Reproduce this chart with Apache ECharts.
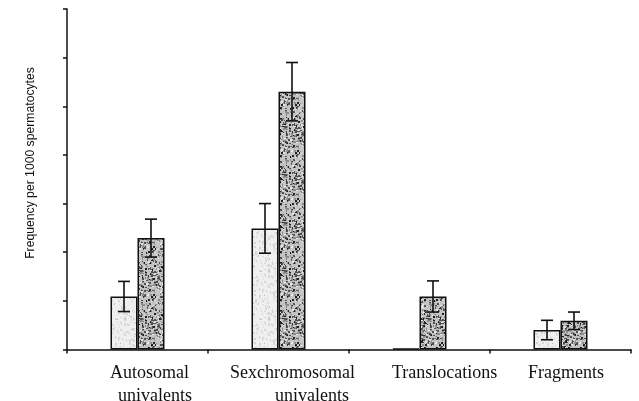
<!DOCTYPE html>
<html>
<head>
<meta charset="utf-8">
<script src="https://cdn.jsdelivr.net/npm/echarts@6/dist/echarts.min.js"></script>
<style>
  html, body { margin: 0; padding: 0; background: #fff; }
  #chart { width: 639px; height: 401px; }
</style>
</head>
<body>
<div id="chart"></div>
<script>
// Category labels, each split into its two printed lines
const categories = ['Autosomal univalents', 'Sexchromosomal univalents', 'Translocations', 'Fragments'];
const labelLines = [['Autosomal', 'univalents'], ['Sexchromosomal', 'univalents'], ['Translocations'], ['Fragments']];

// Frequency per 1000 spermatocytes: two groups per category
const lightValues = [1.09, 2.49, 0.02, 0.40];
const darkValues = [2.29, 5.30, 1.09, 0.59];
// Half-length of the error bars (null = no bar drawn)
const lightErrors = [0.31, 0.51, null, 0.20];
const darkErrors = [0.39, 0.60, 0.32, 0.18];

// Y axis ticks (unlabelled)
const yTicks = [0, 1, 2, 3, 4, 5, 6, 7];

// Left edge of each label line relative to the category centre (px)
const lineOffsets = [[-27.5, -19.5], [-48.5, -3.5], [-27.5], [-32.5]];

const BAR_W = 27;

// Deterministic speckle texture for the bar fills
function hash(n) {
  let x = Math.sin(n * 12.9898 + 78.233) * 43758.5453;
  return x - Math.floor(x);
}
function makeTexture(bg, specks, size, seed) {
  const c = document.createElement('canvas');
  c.width = size; c.height = size;
  const g = c.getContext('2d');
  g.fillStyle = bg;
  g.fillRect(0, 0, size, size);
  let k = seed;
  specks.forEach(function (s) {
    g.fillStyle = s.color;
    for (let i = 0; i < s.count; i++) {
      const x = Math.floor(hash(k++) * size);
      const y = Math.floor(hash(k++) * size);
      const w = 1 + Math.floor(hash(k++) * s.max);
      const h = 1 + Math.floor(hash(k++) * s.max);
      g.fillRect(x, y, w, h);
    }
  });
  return c;
}
const lightTex = makeTexture('#efefef', [
  { color: '#d6d6d6', count: 170, max: 2 },
  { color: '#bcbcbc', count: 45, max: 1 }
], 48, 11);
const darkTex = makeTexture('#c4c4c4', [
  { color: '#8c8c8c', count: 240, max: 2 },
  { color: '#505050', count: 190, max: 2 },
  { color: '#222222', count: 90, max: 2 },
  { color: '#e4e4e4', count: 70, max: 2 }
], 48, 997);

function errorData(values, errors) {
  return values.map(function (v, i) {
    return errors[i] == null ? null : [i, v - errors[i], v + errors[i]];
  }).filter(function (d) { return d !== null; });
}

function errorSeries(values, errors, dx) {
  return {
    type: 'custom',
    z: 5,
    data: errorData(values, errors),
    encode: { x: 0, y: [1, 2] },
    renderItem: function (params, api) {
      const lo = api.coord([api.value(0), api.value(1)]);
      const hi = api.coord([api.value(0), api.value(2)]);
      const x = lo[0] + dx;
      const cap = 6;
      const style = { stroke: '#111', lineWidth: 1.6, fill: null };
      return {
        type: 'group',
        children: [
          { type: 'line', shape: { x1: x, y1: lo[1], x2: x, y2: hi[1] }, style: style },
          { type: 'line', shape: { x1: x - cap, y1: hi[1], x2: x + cap, y2: hi[1] }, style: style },
          { type: 'line', shape: { x1: x - cap, y1: lo[1], x2: x + cap, y2: lo[1] }, style: style }
        ]
      };
    }
  };
}

const chart = echarts.init(document.getElementById('chart'), null, { renderer: 'canvas' });

const option = {
  animation: false,
  grid: { left: 67, right: 8, top: 9, bottom: 51.5, containLabel: false },
  xAxis: {
    type: 'category',
    data: categories,
    boundaryGap: true,
    axisLine: { lineStyle: { color: '#111', width: 1.5 } },
    axisTick: { show: true, interval: 0, length: 4, inside: false, lineStyle: { color: '#111', width: 1.5 } },
    axisLabel: { show: false, interval: 0 }
  },
  yAxis: {
    type: 'value',
    min: yTicks[0],
    max: yTicks[yTicks.length - 1],
    interval: 1,
    axisLine: { show: true, lineStyle: { color: '#111', width: 1.5 } },
    axisTick: { show: true, length: 4, lineStyle: { color: '#111', width: 1.5 } },
    axisLabel: { show: false },
    splitLine: { show: false }
  },
  series: [
    {
      type: 'bar',
      data: lightValues,
      barWidth: BAR_W,
      barGap: '0%',
      itemStyle: {
        color: { image: lightTex, repeat: 'repeat' },
        borderColor: '#111',
        borderWidth: 1.5
      }
    },
    {
      type: 'bar',
      data: darkValues,
      barWidth: BAR_W,
      barGap: '0%',
      itemStyle: {
        color: { image: darkTex, repeat: 'repeat' },
        borderColor: '#111',
        borderWidth: 1.5
      }
    },
    errorSeries(lightValues, lightErrors, -BAR_W / 2),
    errorSeries(darkValues, darkErrors, BAR_W / 2)
  ]
};

chart.setOption(option);

// Category labels (serif, two lines, slightly staggered) and the rotated y-axis title
const graphics = [];
labelLines.forEach(function (lines, i) {
  const cx = chart.convertToPixel({ xAxisIndex: 0 }, categories[i]);
  lines.forEach(function (txt, j) {
    graphics.push({
      type: 'text',
      left: cx + lineOffsets[i][j],
      top: 364 + j * 23.4,
      style: {
        text: txt,
        font: '18px "Liberation Serif", "Times New Roman", serif',
        fill: '#111'
      }
    });
  });
});
graphics.push({
  type: 'text',
  x: 31,
  y: 163,
  rotation: Math.PI / 2,
  style: {
    text: 'Frequency per 1000 spermatocytes',
    font: '12.2px "Liberation Sans", Arial, sans-serif',
    fill: '#111',
    align: 'center',
    verticalAlign: 'middle'
  }
});
chart.setOption({ graphic: graphics });
</script>
</body>
</html>
